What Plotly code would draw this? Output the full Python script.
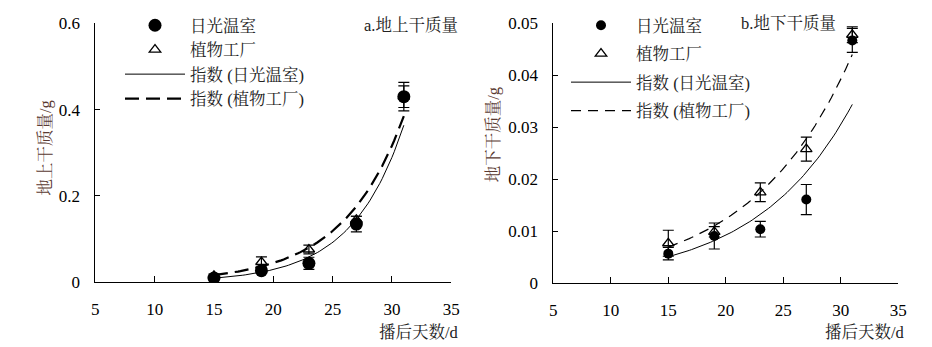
import numpy as np
import plotly.graph_objects as go

# Days after sowing
days = [15, 19, 23, 27, 31]

# a. Above-ground dry mass (g)
shoot_greenhouse = [0.010, 0.027, 0.044, 0.135, 0.430]
shoot_greenhouse_err = [0.003, 0.005, 0.014, 0.018, 0.033]
shoot_factory = [0.015, 0.047, 0.076, 0.145, 0.430]
shoot_factory_err = [0.004, 0.012, 0.010, 0.008, 0.025]

# b. Below-ground dry mass (g)
root_greenhouse = [0.0057, 0.0091, 0.0104, 0.0161, 0.0467]
root_greenhouse_err = [0.0012, 0.0025, 0.0015, 0.0029, 0.0023]
root_factory = [0.0077, 0.0099, 0.0175, 0.0258, 0.0478]
root_factory_err = [0.0025, 0.0010, 0.0018, 0.0023, 0.0015]

x_ticks = [5, 10, 15, 20, 25, 30, 35]
shoot_ticks = [0, 0.2, 0.4, 0.6]
shoot_tick_text = ["0", "0.2", "0.4", "0.6"]
root_ticks = [0, 0.01, 0.02, 0.03, 0.04, 0.05]
root_tick_text = ["0", "0.01", "0.02", "0.03", "0.04", "0.05"]

name_gh = "日光温室"
name_pf = "植物工厂"
name_fit_gh = "指数 (日光温室)"
name_fit_pf = "指数 (植物工厂)"

FONT = "Liberation Serif, Noto Serif CJK SC"
TITLE_COLOR = "#5a3a32"


def exp_trend(x, y, n=80):
    """Least-squares exponential trendline y = a*exp(b*x), fitted on log(y)."""
    b, ln_a = np.polyfit(np.asarray(x, float), np.log(np.asarray(y, float)), 1)
    xs = np.linspace(min(x), max(x), n)
    return xs, np.exp(ln_a) * np.exp(b * xs)


def err(arr, w):
    return dict(type="data", array=arr, visible=True, color="black",
                thickness=1.2, width=w)


fig = go.Figure()


def add_panel(xa, ya, leg, gh, gh_err, pf, pf_err, circle, tri, dash_w, dash):
    fx, fy = exp_trend(days, gh)
    fig.add_trace(go.Scatter(x=fx, y=fy, mode="lines", name=name_fit_gh,
                             line=dict(color="black", width=1),
                             xaxis=xa, yaxis=ya, legend=leg, legendrank=3,
                             legendgroup=leg + "c", hoverinfo="skip"))
    fx, fy = exp_trend(days, pf)
    fig.add_trace(go.Scatter(x=fx, y=fy, mode="lines", name=name_fit_pf,
                             line=dict(color="black", width=dash_w, dash=dash),
                             xaxis=xa, yaxis=ya, legend=leg, legendrank=4,
                             legendgroup=leg + "d", hoverinfo="skip"))
    fig.add_trace(go.Scatter(x=days, y=pf, mode="markers", name=name_pf,
                             marker=dict(symbol="triangle-up-open", size=tri,
                                         color="black", line=dict(width=1.3)),
                             error_y=err(pf_err, 5.5),
                             xaxis=xa, yaxis=ya, legend=leg, legendrank=2,
                             legendgroup=leg + "b"))
    fig.add_trace(go.Scatter(x=days, y=gh, mode="markers", name=name_gh,
                             marker=dict(symbol="circle", size=circle,
                                         color="black"),
                             error_y=err(gh_err, 5.5),
                             xaxis=xa, yaxis=ya, legend=leg, legendrank=1,
                             legendgroup=leg + "a"))


add_panel("x", "y", "legend", shoot_greenhouse, shoot_greenhouse_err,
          shoot_factory, shoot_factory_err, 13, 10, 2.2, "14px,7px")
add_panel("x2", "y2", "legend2", root_greenhouse, root_greenhouse_err,
          root_factory, root_factory_err, 10, 10, 1.2, "10px,7px")

axis_common = dict(showline=True, linecolor="black", linewidth=1,
                   ticks="inside", tickcolor="black", tickwidth=1,
                   showgrid=False, zeroline=False,
                   tickfont=dict(family=FONT, size=17, color="black"))

W, H = 932, 347
fig.update_layout(
    width=W, height=H,
    margin=dict(l=0, r=0, t=0, b=0, autoexpand=False),
    paper_bgcolor="white", plot_bgcolor="white",
    showlegend=True,
    xaxis=dict(domain=[95.3 / W, 451.3 / W], range=[5, 35], tickvals=x_ticks,
               anchor="y", ticklen=6, ticklabelstandoff=11, **axis_common),
    yaxis=dict(domain=[1 - 282.3 / H, 1 - 23.3 / H], range=[0, 0.6],
               tickvals=shoot_ticks, ticktext=shoot_tick_text, anchor="x",
               ticklen=5, ticklabelstandoff=11, **axis_common),
    xaxis2=dict(domain=[553.3 / W, 898.3 / W], range=[5, 35], tickvals=x_ticks,
                anchor="y2", ticklen=6, ticklabelstandoff=11, **axis_common),
    yaxis2=dict(domain=[1 - 283.3 / H, 1 - 23.3 / H], range=[0, 0.05],
                tickvals=root_ticks, ticktext=root_tick_text, anchor="x2",
                ticklen=5, ticklabelstandoff=11, **axis_common),
    legend=dict(x=120 / W, y=1 - 8 / H, xanchor="left", yanchor="top",
                bgcolor="rgba(0,0,0,0)", borderwidth=0, itemwidth=60,
                tracegroupgap=0, traceorder="normal",
                font=dict(family=FONT, size=16.5, color="#222")),
    legend2=dict(x=566 / W, y=1 - 8 / H, xanchor="left", yanchor="top",
                 bgcolor="rgba(0,0,0,0)", borderwidth=0, itemwidth=60,
                 tracegroupgap=4, traceorder="grouped",
                 font=dict(family=FONT, size=16.5, color="#222")),
)

title_font = dict(family=FONT, size=16.5, color=TITLE_COLOR)
text_font = dict(family=FONT, size=16.5, color="#222")
annotations = [
    dict(text="地上干质量/g", x=45 / W, y=1 - 148.5 / H, textangle=-90,
         font=title_font),
    dict(text="地下干质量/g", x=494.3 / W, y=1 - 135 / H, textangle=-90,
         font=title_font),
    dict(text="播后天数/d", x=461 / W, y=1 - 332 / H, xanchor="right",
         font=text_font),
    dict(text="播后天数/d", x=906.7 / W, y=1 - 332 / H, xanchor="right",
         font=text_font),
    dict(text="a.地上干质量", x=460 / W, y=1 - 25 / H, xanchor="right",
         font=text_font),
    dict(text="b.地下干质量", x=838.3 / W, y=1 - 23.5 / H, xanchor="right",
         font=text_font),
]
for a in annotations:
    a.update(xref="paper", yref="paper", showarrow=False)
    a.setdefault("xanchor", "center")
    a.setdefault("yanchor", "middle")
fig.update_layout(annotations=annotations)

fig.write_html("out.html")
